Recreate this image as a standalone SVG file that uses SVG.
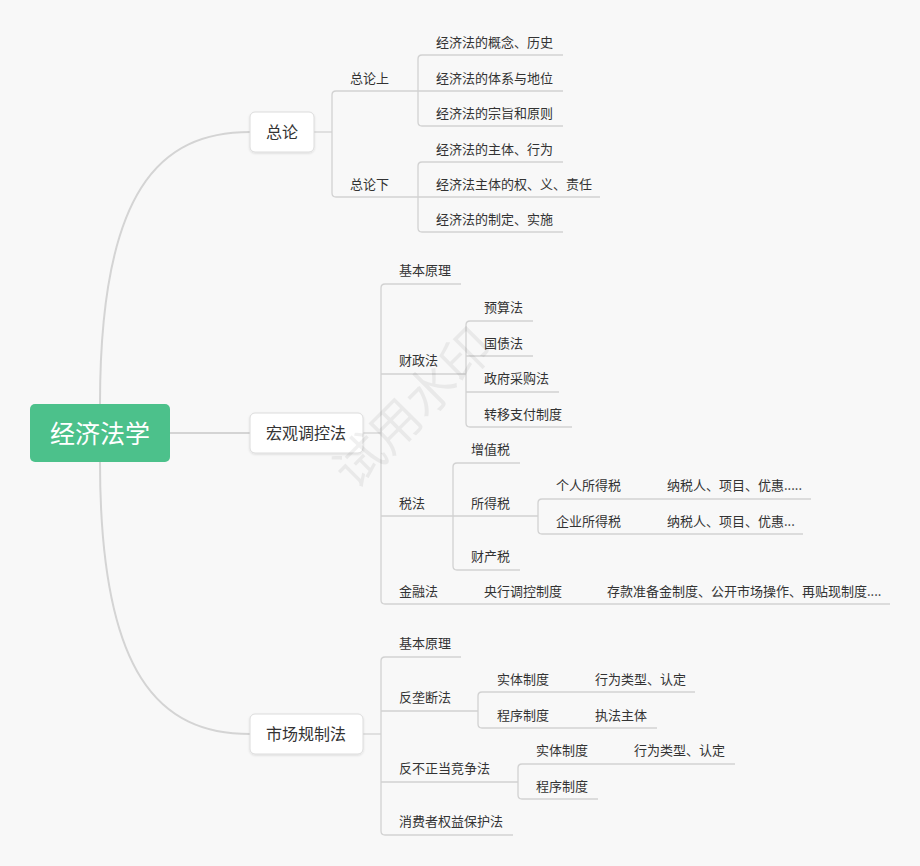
<svg xmlns="http://www.w3.org/2000/svg" width="920" height="866" viewBox="0 0 920 866">
<defs>
<style>
.ln{fill:none;stroke:#d2d2d2;stroke-width:1.3}
.mn{fill:none;stroke:#d4d4d4;stroke-width:2}
.t{font-family:"Noto Sans CJK SC","Noto Sans",sans-serif;font-size:13px;fill:#333;dominant-baseline:central}
.nt{font-family:"Noto Sans CJK SC","Noto Sans",sans-serif;font-size:16px;fill:#333;dominant-baseline:central;text-anchor:middle}
.box{fill:#fff;stroke:#dcdcdc;stroke-width:1}
</style>
<filter id="sh" x="-20%" y="-20%" width="140%" height="150%">
<feDropShadow dx="0" dy="1" stdDeviation="1" flood-color="#000" flood-opacity="0.12"/>
</filter>
</defs>
<rect width="920" height="866" fill="#f8f8f8"/>

<g id="connectors">
<path class="mn" d="M100,404 C100,190 160,132 250,132"/>
<path class="mn" d="M170,433 H250"/>
<path class="mn" d="M100,462 C100,676 160,734 250,734"/>

<path class="ln" d="M314,132 H332"/>
<path class="ln" d="M418,91 H336 Q332,91 332,95 V193 Q332,197 336,197 H418"/>
<path class="ln" d="M563,55 H422 Q418,55 418,59 V122 Q418,126 422,126 H563"/>
<path class="ln" d="M418,91 H563"/>
<path class="ln" d="M563,162 H422 Q418,162 418,166 V228 Q418,232 422,232 H563"/>
<path class="ln" d="M418,197 H600"/>

<path class="ln" d="M363,433 H381"/>
<path class="ln" d="M461,284 H385 Q381,284 381,288 V600 Q381,604 385,604 H890"/>
<path class="ln" d="M381,374 H466"/>
<path class="ln" d="M533,321 H470 Q466,321 466,325 V423 Q466,427 470,427 H572"/>
<path class="ln" d="M466,356 H533"/>
<path class="ln" d="M466,392 H559"/>
<path class="ln" d="M381,516 H538"/>
<path class="ln" d="M520,463 H457 Q453,463 453,467 V566 Q453,570 457,570 H520"/>
<path class="ln" d="M811,499 H542 Q538,499 538,503 V530 Q538,534 542,534 H803"/>

<path class="ln" d="M363,734 H381"/>
<path class="ln" d="M461,657 H385 Q381,657 381,661 V831 Q381,835 385,835 H513"/>
<path class="ln" d="M381,711 H478"/>
<path class="ln" d="M695,692 H482 Q478,692 478,696 V724 Q478,728 482,728 H657"/>
<path class="ln" d="M381,782 H518"/>
<path class="ln" d="M735,764 H522 Q518,764 518,768 V795 Q518,799 522,799 H598"/>
</g>

<g id="root">
<rect x="30" y="404" width="140" height="58" rx="5" fill="#4cc18b"/>
<text x="100" y="432" font-family="Noto Sans CJK SC,Noto Sans,sans-serif" font-size="25" fill="#fff" text-anchor="middle" dominant-baseline="central">经济法学</text>
</g>

<g id="zonglun">
<rect class="box" x="250" y="112" width="64" height="40" rx="5" filter="url(#sh)"/>
<text class="nt" x="282" y="131">总论</text>
</g>
<g id="zonglun-shang"><text class="t" x="350" y="77">总论上</text></g>
<g id="zonglun-shang-1"><text class="t" x="436" y="41">经济法的概念、历史</text></g>
<g id="zonglun-shang-2"><text class="t" x="436" y="77">经济法的体系与地位</text></g>
<g id="zonglun-shang-3"><text class="t" x="436" y="112">经济法的宗旨和原则</text></g>
<g id="zonglun-xia"><text class="t" x="350" y="183">总论下</text></g>
<g id="zonglun-xia-1"><text class="t" x="436" y="148">经济法的主体、行为</text></g>
<g id="zonglun-xia-2"><text class="t" x="436" y="183">经济法主体的权、义、责任</text></g>
<g id="zonglun-xia-3"><text class="t" x="436" y="218">经济法的制定、实施</text></g>

<g id="hongguan">
<rect class="box" x="250" y="413" width="113" height="40" rx="5" filter="url(#sh)"/>
<text class="nt" x="306" y="432">宏观调控法</text>
</g>
<g id="hg-jiben"><text class="t" x="399" y="269">基本原理</text></g>
<g id="hg-caizheng"><text class="t" x="399" y="359">财政法</text></g>
<g id="cz-1"><text class="t" x="484" y="306">预算法</text></g>
<g id="cz-2"><text class="t" x="484" y="342">国债法</text></g>
<g id="cz-3"><text class="t" x="484" y="377">政府采购法</text></g>
<g id="cz-4"><text class="t" x="484" y="413">转移支付制度</text></g>
<g id="hg-shui"><text class="t" x="399" y="502">税法</text></g>
<g id="sf-1"><text class="t" x="471" y="448">增值税</text></g>
<g id="sf-2"><text class="t" x="471" y="502">所得税</text></g>
<g id="sds-1"><text class="t" x="556" y="484">个人所得税</text></g>
<g id="sds-1a"><text class="t" x="667" y="484">纳税人、项目、优惠.....</text></g>
<g id="sds-2"><text class="t" x="556" y="520">企业所得税</text></g>
<g id="sds-2a"><text class="t" x="667" y="520">纳税人、项目、优惠...</text></g>
<g id="sf-3"><text class="t" x="471" y="555">财产税</text></g>
<g id="hg-jinrong"><text class="t" x="399" y="590">金融法</text></g>
<g id="jr-1"><text class="t" x="484" y="590">央行调控制度</text></g>
<g id="jr-1a"><text class="t" x="607" y="590">存款准备金制度、公开市场操作、再贴现制度....</text></g>

<g id="shichang">
<rect class="box" x="250" y="714" width="113" height="40" rx="5" filter="url(#sh)"/>
<text class="nt" x="306" y="733">市场规制法</text>
</g>
<g id="sc-jiben"><text class="t" x="399" y="642">基本原理</text></g>
<g id="sc-fld"><text class="t" x="399" y="696">反垄断法</text></g>
<g id="fld-1"><text class="t" x="497" y="678">实体制度</text></g>
<g id="fld-1a"><text class="t" x="595" y="678">行为类型、认定</text></g>
<g id="fld-2"><text class="t" x="497" y="714">程序制度</text></g>
<g id="fld-2a"><text class="t" x="595" y="714">执法主体</text></g>
<g id="sc-fbz"><text class="t" x="399" y="767">反不正当竞争法</text></g>
<g id="fbz-1"><text class="t" x="536" y="749">实体制度</text></g>
<g id="fbz-1a"><text class="t" x="634" y="749">行为类型、认定</text></g>
<g id="fbz-2"><text class="t" x="536" y="785">程序制度</text></g>
<g id="sc-xf"><text class="t" x="399" y="820">消费者权益保护法</text></g>

<text x="410" y="405" transform="rotate(-45 410 405)" font-family="Noto Sans CJK SC,sans-serif" font-size="50" fill="#000" fill-opacity="0.06" text-anchor="middle" dominant-baseline="central">试用水印</text>
</svg>
